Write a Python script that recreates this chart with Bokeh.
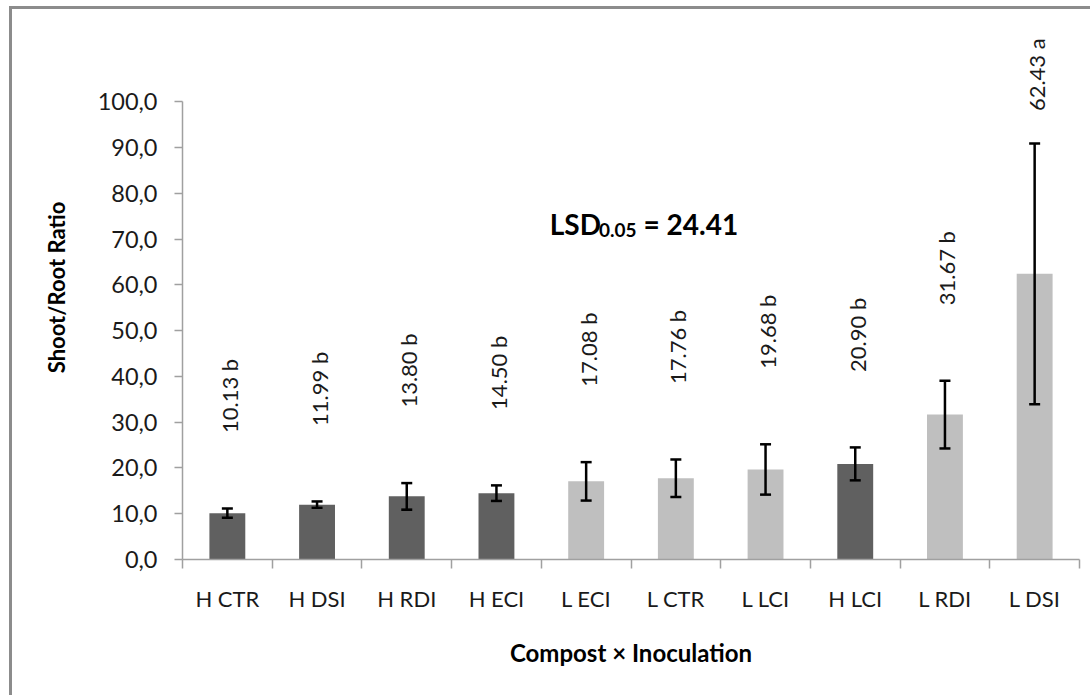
import math
from bokeh.plotting import figure
from bokeh.models import (Range1d, FixedTicker, Whisker, ColumnDataSource, Label, TeeHead)
from bokeh.core.properties import value
from bokeh.embed import file_html
from bokeh.resources import INLINE

# ---- data ----
categories = ["H CTR", "H DSI", "H RDI", "H ECI", "L ECI", "L CTR", "L LCI", "H LCI", "L RDI", "L DSI"]
means = [10.13, 11.99, 13.80, 14.50, 17.08, 17.76, 19.68, 20.90, 31.67, 62.43]
errors = [1.0, 0.7, 2.9, 1.7, 4.2, 4.1, 5.5, 3.6, 7.4, 28.5]
letters = ["b", "b", "b", "b", "b", "b", "b", "b", "b", "a"]
y_ticks = [0, 10, 20, 30, 40, 50, 60, 70, 80, 90, 100]
lsd_value = "24.41"
lsd_alpha = "0.05"

FONT = "Lato"
DARK = "#606060"
LIGHT = "#bfbfbf"
AXIS = "#a0a0a0"

xs = [i + 0.5 for i in range(len(categories))]
upper = [m + e for m, e in zip(means, errors)]
lower = [m - e for m, e in zip(means, errors)]
colors = [DARK if c.startswith("H") else LIGHT for c in categories]
labels = [f"{m:.2f} {l}" for m, l in zip(means, letters)]
label_y = [min(u + 16.5, 98) for u in upper]

src = ColumnDataSource(dict(x=xs, top=means, upper=upper, lower=lower,
                            color=colors, label=labels, label_y=label_y))

p = figure(width=1090, height=700, x_range=Range1d(0, 10), y_range=Range1d(0, 118.9),
           output_backend="svg", toolbar_location=None,
           min_border_left=170, min_border_right=26, min_border_top=6, min_border_bottom=153)
p.xgrid.visible = False
p.ygrid.visible = False
p.outline_line_color = None
p.background_fill_color = "white"
p.border_fill_color = "white"
# outer chart border: grey edge on the left and top (right/bottom run past the page)
p.styles = {"margin-left": "9px", "margin-top": "6px", "box-sizing": "content-box",
            "border-left": "3px solid #8c8c8c", "border-top": "3px solid #8c8c8c"}

p.vbar(x="x", top="top", bottom=0, width=0.4, fill_color="color", line_color=None, source=src)

head_u = TeeHead(size=11, line_width=2.5, line_color="black")
head_l = TeeHead(size=11, line_width=2.5, line_color="black")
p.add_layout(Whisker(source=src, base="x", upper="upper", lower="lower", level="overlay",
                     line_width=2.5, line_color="black", upper_head=head_u, lower_head=head_l))

p.text(x="x", y="label_y", text="label", source=src, angle=math.pi / 2,
       text_align="left", text_baseline="middle", x_offset=2,
       text_font=value(FONT), text_font_size="22px", text_color="#1a1a1a")

# x axis
xa = p.xaxis[0]
xa.ticker = FixedTicker(ticks=xs, minor_ticks=list(range(len(categories) + 1)))
xa.major_label_overrides = {x: c for x, c in zip(xs, categories)}
xa.major_tick_out = 0
xa.major_tick_in = 0
xa.minor_tick_out = 9
xa.minor_tick_in = 0
xa.minor_tick_line_color = AXIS
xa.minor_tick_line_width = 1.5
xa.axis_line_color = AXIS
xa.axis_line_width = 1.5
xa.major_label_standoff = 16
xa.major_label_text_font = FONT
xa.major_label_text_font_size = "22px"
xa.major_label_text_color = "#1a1a1a"
xa.axis_label = "Compost × Inoculation"
xa.axis_label_text_font = FONT
xa.axis_label_text_font_style = "bold"
xa.axis_label_text_font_size = "24px"
xa.axis_label_text_color = "black"
xa.axis_label_standoff = 23

# y axis
ya = p.yaxis[0]
ya.ticker = FixedTicker(ticks=y_ticks, minor_ticks=[])
ya.bounds = (0, 100)
ya.major_label_overrides = {t: f"{t},0" for t in y_ticks}
ya.major_tick_out = 8
ya.major_tick_in = 0
ya.major_tick_line_color = AXIS
ya.major_tick_line_width = 1.5
ya.axis_line_color = AXIS
ya.axis_line_width = 1.5
ya.major_label_standoff = 17
ya.major_label_text_font = FONT
ya.major_label_text_font_size = "23.5px"
ya.major_label_text_color = "#1a1a1a"
ya.axis_label = "Shoot/Root Ratio"
ya.axis_label_text_font = FONT
ya.axis_label_text_font_style = "bold"
ya.axis_label_text_font_size = "22px"
ya.axis_label_text_color = "black"
ya.axis_label_standoff = 25

# LSD annotation
p.add_layout(Label(x=4.094, y=73.4, text="LSD", text_font=FONT, text_font_style="bold",
                   text_font_size="28px", text_baseline="alphabetic", text_color="black"))
p.add_layout(Label(x=4.642, y=72.0, text=lsd_alpha, text_font=FONT, text_font_style="bold",
                   text_font_size="19px", text_baseline="alphabetic", text_color="black"))
p.add_layout(Label(x=5.14, y=73.4, text="= " + lsd_value, text_font=FONT, text_font_style="bold",
                   text_font_size="28px", text_baseline="alphabetic", text_color="black"))

html = file_html(p, INLINE)
html = html.replace("</head>", "<style>html,body{margin:0;overflow:hidden;}</style></head>", 1)
open("out.html", "w").write(html)
